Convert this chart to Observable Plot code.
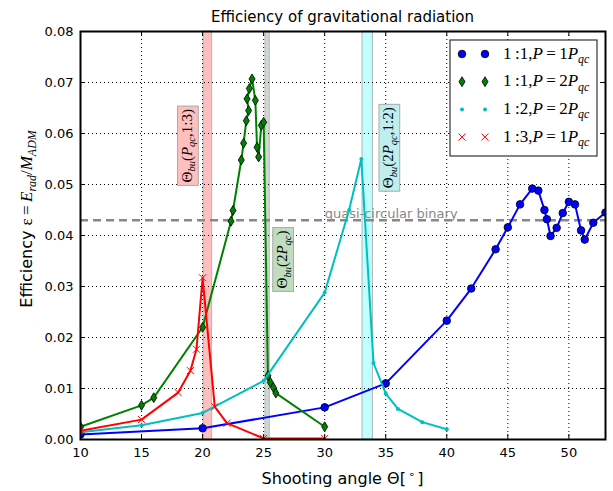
<!DOCTYPE html>
<html>
<head>
<meta charset="utf-8">
<script src="https://cdn.jsdelivr.net/npm/d3@7"></script>
<script src="https://cdn.jsdelivr.net/npm/@observablehq/plot@0.6"></script>
<style>
  html, body { margin: 0; padding: 0; background: #fff; }
  #wrap { width: 613px; height: 491px; position: relative; overflow: hidden; font-family: "DejaVu Sans", sans-serif; }
  #title { box-sizing: border-box; width: 613px; height: 28px; padding: 6px 8px 0 80px; line-height: 22px; font-size: 15px; text-align: center; color: #000; }
  svg { display: block; }
</style>
</head>
<body>
<div id="wrap">
  <div id="title">Efficiency of gravitational radiation</div>
  <div id="chart"></div>
</div>
<script>
// ---------- data ----------
const xTicks = [10, 15, 20, 25, 30, 35, 40, 45, 50];
const yTicks = [0, 0.01, 0.02, 0.03, 0.04, 0.05, 0.06, 0.07, 0.08];
const yTickLabels = ["0.00", "0.01", "0.02", "0.03", "0.04", "0.05", "0.06", "0.07", "0.08"];
const xDomain = [10, 53];
const yDomain = [0, 0.08];

const seriesLabels = ["1\u2009:1,P\u2009=\u20091P_{qc}", "1\u2009:1,P\u2009=\u20092P_{qc}", "1\u2009:2,P\u2009=\u20092P_{qc}", "1\u2009:3,P\u2009=\u20091P_{qc}"];

// 1:1, P = 1 Pqc
const blueX = [10, 20, 30, 35, 40, 42, 44, 45, 46, 47, 47.5, 48, 48.2, 48.5, 49, 49.5, 50, 50.5, 51, 51.3, 52, 53];
const blueY = [0.0010, 0.0022, 0.0063, 0.0110, 0.0233, 0.0296, 0.0373, 0.0416, 0.0461, 0.0492, 0.0488, 0.0450, 0.0432, 0.0399, 0.0415, 0.0444, 0.0466, 0.0461, 0.0410, 0.0392, 0.0425, 0.0445];

// 1:1, P = 2 Pqc
const greenX = [10, 15, 16, 20, 22.33, 22.49, 23.17, 23.36, 23.58, 23.77, 23.64, 23.83, 24.05, 24.32, 24.46, 24.59, 24.81, 25.0, 25.35, 25.55, 25.8, 26.0, 30];
const greenY = [0.0025, 0.0067, 0.0082, 0.0220, 0.0428, 0.0449, 0.0548, 0.0581, 0.0625, 0.0645, 0.0668, 0.0688, 0.0707, 0.0665, 0.0573, 0.0554, 0.0616, 0.0622, 0.0125, 0.0112, 0.0102, 0.0091, 0.0025];

// 1:2, P = 2 Pqc
const cyanX = [10, 15, 20, 25, 30, 32, 33, 34, 35, 36, 38, 40];
const cyanY = [0.0014, 0.0028, 0.0052, 0.0115, 0.0288, 0.0450, 0.0550, 0.0150, 0.0090, 0.0060, 0.0034, 0.0020];

// 1:3, P = 1 Pqc
const redX = [10, 15, 18, 19, 19.5, 20, 21, 22, 25, 30];
const redY = [0.0017, 0.0039, 0.0092, 0.0135, 0.0177, 0.0317, 0.0064, 0.0032, 0.0002, 0.0002];

// shaded bands (shooting-angle ranges)
const bandStart = [20.08, 25.15, 33.1];
const bandEnd = [20.78, 25.5, 33.95];

// rotated band tags
const tagText = ["Θ_{bu}(P_{qc},1:3)", "Θ_{bu}(2P_{qc})", "Θ_{bu}(2P_{qc},1:2)"];
const tagX = [18.7, 26.5, 35.2];
const tagY = [0.0576, 0.0353, 0.0572];

// quasi-circular reference
const qcEff = 0.043;
const qcLabel = "quasi-circular binary";
const qcLabelX = 30;

// ---------- styles ----------
const BLUE = "#0000ff", GREEN = "#008000", CYAN = "#00bfbf", RED = "#ff0000";
const bandFills = ["#ffbfbf", "#d0d8d0", "#c0ffff"];
const tagFills = ["#ffbfbf", "#bfdcbf", "#bfeeee"];
const SERIF = "'Liberation Serif', 'DejaVu Serif', serif";
const SANS = "'DejaVu Sans', sans-serif";

const W = 613, H = 463, mL = 80, mR = 8, mT = 3, mB = 52;
const innerW = W - mL - mR, innerH = H - mT - mB;

const pts = (xs, ys) => xs.map((x, i) => ({x, y: ys[i]}));
const blue = pts(blueX, blueY), green = pts(greenX, greenY), cyan = pts(cyanX, cyanY), red = pts(redX, redY);

const thinDiamond = {
  draw(ctx, size) {
    const r = Math.sqrt(size / Math.PI);
    ctx.moveTo(0, -r * 1.3);
    ctx.lineTo(r * 0.8, 0);
    ctx.lineTo(0, r * 1.3);
    ctx.lineTo(-r * 0.8, 0);
    ctx.closePath();
  }
};

const bandMark = (i) => Plot.rect([i], {
  x1: j => bandStart[j], x2: j => bandEnd[j], y1: yDomain[0], y2: yDomain[1],
  fill: bandFills[i], stroke: "#b4b4b4", strokeWidth: 1
});

const svg = Plot.plot({
  width: W, height: H,
  marginLeft: mL, marginRight: mR, marginTop: mT, marginBottom: mB,
  style: {fontFamily: "DejaVu Sans", fontSize: "13px", color: "#000", background: "#fff", overflow: "visible"},
  x: {domain: xDomain},
  y: {domain: yDomain},
  marks: [
    bandMark(0), bandMark(1), bandMark(2),
    Plot.ruleX(xTicks.slice(1), {stroke: "#000", strokeWidth: 1, strokeDasharray: "1,3"}),
    Plot.ruleY(yTicks.slice(1, -1), {stroke: "#000", strokeWidth: 1, strokeDasharray: "1,3"}),
    Plot.ruleY([qcEff], {stroke: "#888", strokeWidth: 2.5, strokeDasharray: "8,5"}),
    Plot.text([qcLabel], {x: () => qcLabelX, y: () => qcEff, text: d => d, textAnchor: "start", lineAnchor: "bottom", dy: -2, fill: "#888", fontSize: 13, fontFamily: "DejaVu Sans"}),
    Plot.text(tagText.map((t, i) => ({t, x: tagX[i], y: tagY[i]})), {x: "x", y: "y", text: "t", rotate: -90, fontSize: 15, fill: "#000"}),
    // 1:1 P=1
    Plot.line(blue, {x: "x", y: "y", stroke: BLUE, strokeWidth: 2, clip: true}),
    Plot.dot(blue, {x: "x", y: "y", r: 3.8, fill: BLUE, stroke: "#000", strokeWidth: 0.8, clip: true}),
    // 1:1 P=2
    Plot.line(green, {x: "x", y: "y", stroke: GREEN, strokeWidth: 2, clip: true}),
    Plot.dot(green, {x: "x", y: "y", r: 3.8, symbol: thinDiamond, fill: GREEN, stroke: "#000", strokeWidth: 0.8, clip: true}),
    // 1:2 P=2
    Plot.line(cyan, {x: "x", y: "y", stroke: CYAN, strokeWidth: 2, clip: true}),
    Plot.dot(cyan, {x: "x", y: "y", r: 2, fill: CYAN, stroke: "none", clip: true}),
    // 1:3 P=1
    Plot.line(red, {x: "x", y: "y", stroke: RED, strokeWidth: 2, clip: true}),
    Plot.dot(red, {x: "x", y: "y", r: 3.3, symbol: "times", stroke: RED, strokeWidth: 1, clip: true}),
    // inward ticks on all four sides
    Plot.ruleX(xTicks, {stroke: "#000", strokeWidth: 1, insetTop: innerH - 5}),
    Plot.ruleX(xTicks, {stroke: "#000", strokeWidth: 1, insetBottom: innerH - 5}),
    Plot.ruleY(yTicks, {stroke: "#000", strokeWidth: 1, insetRight: innerW - 5}),
    Plot.ruleY(yTicks, {stroke: "#000", strokeWidth: 1, insetLeft: innerW - 5}),
    Plot.axisX({ticks: xTicks, tickSize: 0, tickPadding: 8, tickFormat: d => String(d), label: null, fill: "#000"}),
    Plot.axisY({ticks: yTicks, tickSize: 0, tickPadding: 7, tickFormat: d => yTickLabels[yTicks.indexOf(d)], label: null, fill: "#000"}),
    Plot.frame({stroke: "#000", strokeWidth: 2})
  ]
});
document.getElementById("chart").appendChild(svg);

// ---------- rich (math) text ----------
function mathTspans(el, str, size, family) {
  const t = d3.select(el);
  t.text(null);
  let pending = 0, i = 0;
  const isL = c => /[A-Za-z]/.test(c);
  while (i < str.length) {
    const ch = str[i];
    if ((ch === "_" || ch === "^") && str[i + 1] === "{") {
      const end = str.indexOf("}", i);
      const content = str.slice(i + 2, end);
      const shift = ch === "_" ? size * 0.25 : -size * 0.45;
      t.append("tspan").attr("font-family", family).attr("font-size", size * 0.7)
        .attr("font-style", isL(content) ? "italic" : "normal")
        .attr("dy", pending + shift).text(content);
      pending = -shift;
      i = end + 1;
    } else {
      const ital = isL(ch);
      let j = i;
      while (j < str.length && str[j] !== "_" && str[j] !== "^" && isL(str[j]) === ital) j++;
      const sp = t.append("tspan").attr("font-family", family).attr("font-size", size)
        .attr("font-style", ital ? "italic" : "normal").text(str.slice(i, j));
      if (pending) sp.attr("dy", pending);
      pending = 0;
      i = j;
    }
  }
}

const root = d3.select(svg);

// band tags with boxes
root.selectAll("text").filter(function() { return tagText.includes(this.textContent); }).each(function() {
  const idx = tagText.indexOf(this.textContent);
  mathTspans(this, tagText[idx], 15, SERIF);
  const bb = this.getBBox();
  d3.select(this.parentNode).insert("rect", () => this)
    .attr("x", bb.x - 3).attr("y", bb.y - 1).attr("width", bb.width + 6).attr("height", bb.height + 2)
    .attr("transform", this.getAttribute("transform"))
    .attr("fill", tagFills[idx]).attr("stroke", "#aaa").attr("stroke-width", 1);
});

// y label
const yl = root.append("text").attr("transform", "translate(32,191) rotate(-90)").attr("text-anchor", "middle").attr("fill", "#000");
yl.append("tspan").attr("font-family", SANS).attr("font-size", 16).text("Efficiency\u00a0");
{
  const tmp = root.append("text");
  mathTspans(tmp.node(), "ε\u2009=\u2009E_{rad}/M_{ADM}", 17, SERIF);
  tmp.selectAll("tspan").each(function() { yl.node().appendChild(this); });
  tmp.remove();
}

// x label
const xl = root.append("text").attr("x", mL + innerW / 2).attr("y", 456).attr("text-anchor", "middle").attr("fill", "#000").attr("font-family", SANS).attr("font-size", 16);
xl.append("tspan").text("Shooting angle Θ[");
xl.append("tspan").attr("font-size", 11).attr("dy", -6).text("\u2009∘\u2009");
xl.append("tspan").attr("dy", 6).text("]");

// legend
const lg = root.append("g").attr("text-anchor", "start");
lg.append("rect").attr("x", 450).attr("y", 12).attr("width", 147).attr("height", 116)
  .attr("fill", "#fff").attr("stroke", "#333").attr("stroke-width", 1.2);
const legendSymbols = [
  {type: d3.symbolCircle, r: 3.8, fill: BLUE, stroke: "#000", sw: 0.8},
  {type: thinDiamond, r: 3.8, fill: GREEN, stroke: "#000", sw: 0.8},
  {type: d3.symbolCircle, r: 2, fill: CYAN, stroke: "none", sw: 0},
  {type: d3.symbolTimes, r: 3.3, fill: "none", stroke: RED, sw: 1}
];
seriesLabels.forEach((lab, i) => {
  const cy = 26 + i * 27.7;
  const s = legendSymbols[i];
  [462, 485].forEach(cx => {
    lg.append("path").attr("d", d3.symbol(s.type, Math.PI * s.r * s.r)())
      .attr("transform", `translate(${cx},${cy})`)
      .attr("fill", s.fill).attr("stroke", s.stroke).attr("stroke-width", s.sw);
  });
  const t = lg.append("text").attr("x", 503).attr("y", cy).attr("dy", "0.35em").attr("fill", "#000").attr("text-anchor", "start");
  mathTspans(t.node(), lab, 17, SERIF);
});
</script>
</body>
</html>
